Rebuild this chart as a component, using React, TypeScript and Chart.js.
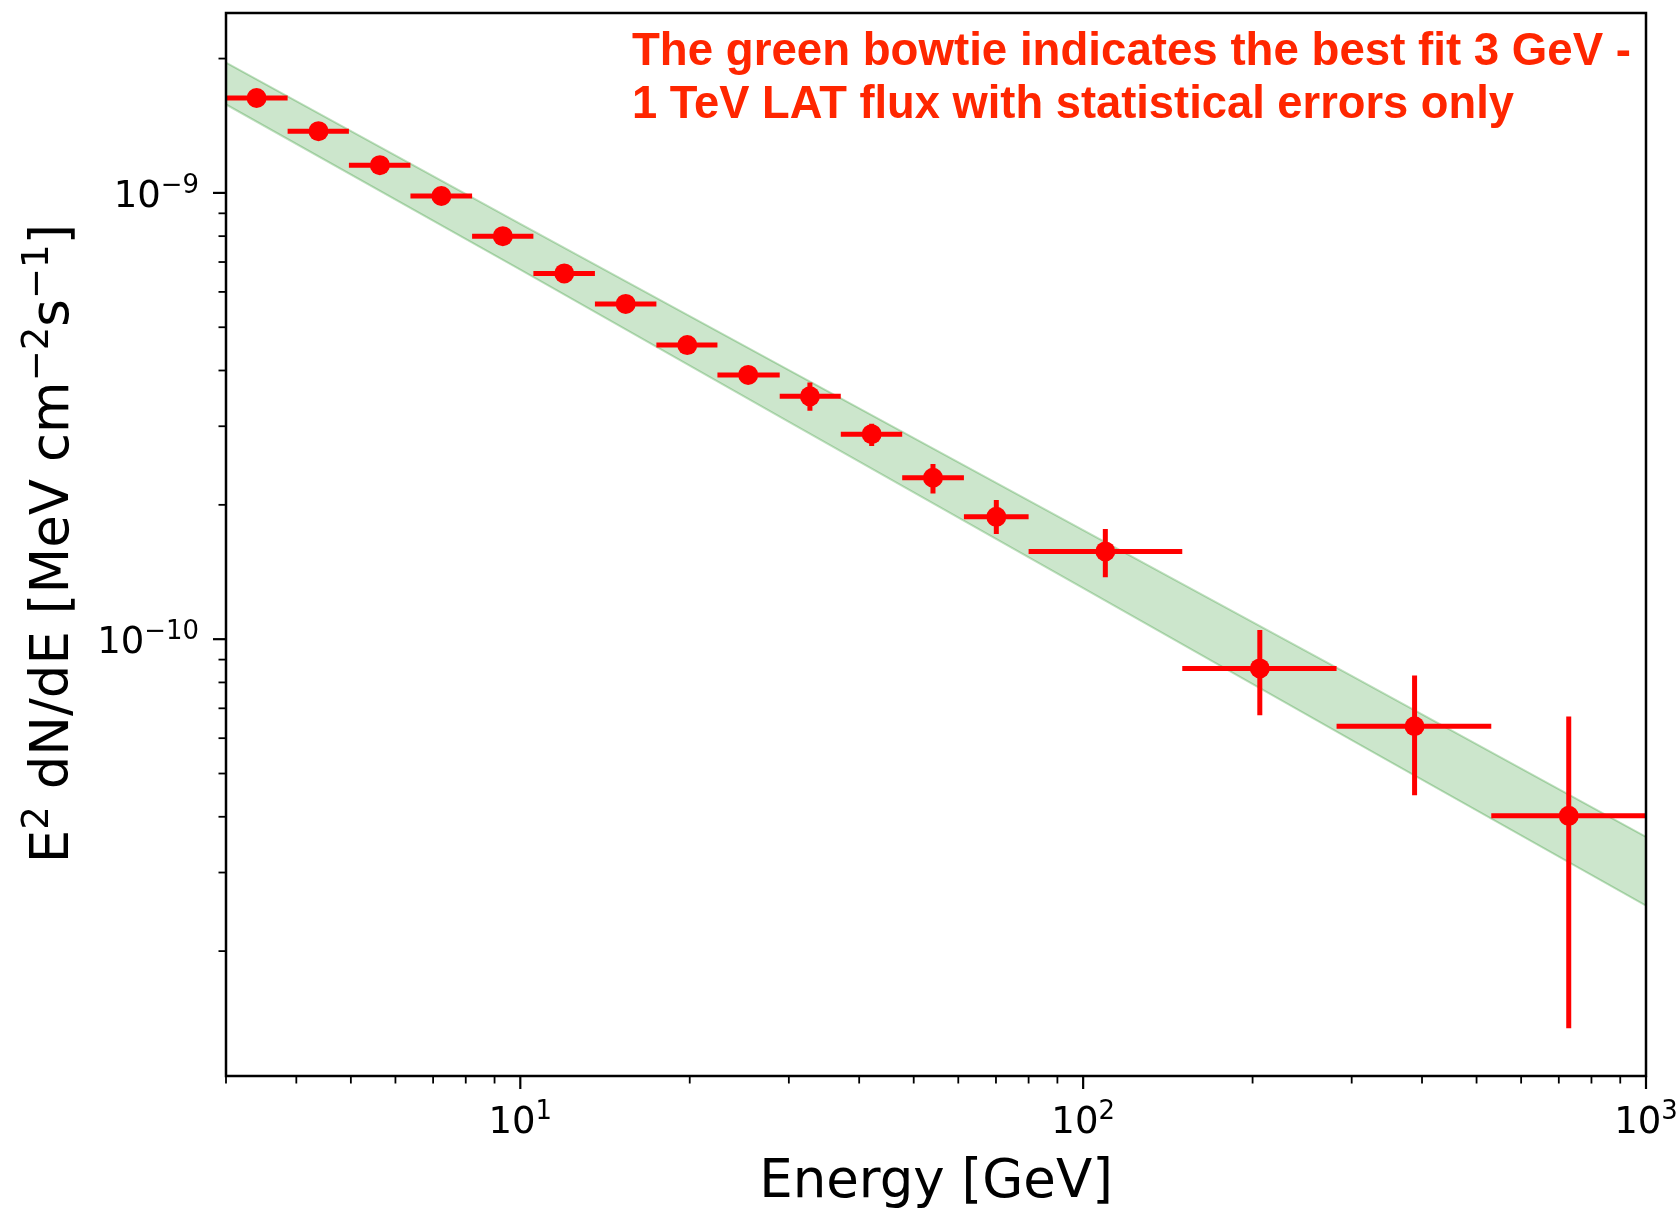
import React, { useEffect, useRef } from 'react';
import { Chart, registerables } from 'chart.js';

Chart.register(...registerables);

// ---- Data ----
const binLo = [3.0, 3.86, 4.96, 6.38, 8.21, 10.55, 13.57, 17.45, 22.4, 28.9, 37.1, 47.7, 61.4, 80.0, 150, 282, 531];
const binHi = [3.86, 4.96, 6.38, 8.21, 10.55, 13.57, 17.45, 22.4, 28.9, 37.1, 47.7, 61.4, 80.0, 150, 282, 531, 1000];
const energy = [3.40, 4.38, 5.63, 7.24, 9.31, 11.97, 15.39, 19.8, 25.4, 32.7, 42.1, 54.1, 70.1, 109.5, 206, 388, 729];
const flux = [1.632e-9, 1.375e-9, 1.154e-9, 9.84e-10, 8.0e-10, 6.6e-10, 5.64e-10, 4.56e-10, 3.91e-10, 3.5e-10, 2.88e-10, 2.3e-10, 1.88e-10, 1.573e-10, 8.6e-11, 6.38e-11, 4.02e-11];
const fluxLo = [1.61e-9, 1.355e-9, 1.135e-9, 9.66e-10, 7.84e-10, 6.45e-10, 5.5e-10, 4.43e-10, 3.78e-10, 3.25e-10, 2.71e-10, 2.12e-10, 1.72e-10, 1.376e-10, 6.75e-11, 4.47e-11, 1.344e-11];
const fluxHi = [1.655e-9, 1.395e-9, 1.173e-9, 1.002e-9, 8.16e-10, 6.75e-10, 5.78e-10, 4.69e-10, 4.04e-10, 3.76e-10, 3.04e-10, 2.47e-10, 2.05e-10, 1.765e-10, 1.049e-10, 8.29e-11, 6.71e-11];

// Green bowtie (best-fit 3 GeV - 1 TeV flux, statistical band)
const bandEnergy = [3, 10, 30, 100, 300, 1000];
const bandUpper = [1.959e-9, 8.52e-10, 4.01e-10, 1.755e-10, 8.27e-11, 3.607e-11];
const bandLower = [1.578e-9, 6.73e-10, 3.07e-10, 1.302e-10, 5.94e-11, 2.528e-11];

// Axes
const xRange = [3, 1000];
const yRange = [1.05e-11, 2.53e-9];
const xMajorTicks = [10, 100, 1000];
const xMajorExp = ['1', '2', '3'];
const xMinorTicks = [3, 4, 5, 6, 7, 8, 9, 20, 30, 40, 50, 60, 70, 80, 90, 200, 300, 400, 500, 600, 700, 800, 900];
const yMajorTicks = [1e-10, 1e-9];
const yMajorExp = ['\u221210', '\u22129'];
const yMinorTicks = [2e-11, 3e-11, 4e-11, 5e-11, 6e-11, 7e-11, 8e-11, 9e-11, 2e-10, 3e-10, 4e-10, 5e-10, 6e-10, 7e-10, 8e-10, 9e-10, 2e-9];

const xTitle = 'Energy [GeV]';
const yTitleRuns: [string, boolean][] = [
  ['E', false], ['2', true], [' dN/dE [MeV cm', false], ['\u22122', true], ['s', false], ['\u22121', true], [']', false],
];
const noteLines = [
  'The green bowtie indicates the best fit 3 GeV -',
  '1 TeV LAT flux with statistical errors only',
];

const RED = '#ff0000';
const FONT = '"DejaVu Sans", sans-serif';

function drawPow(ctx: CanvasRenderingContext2D, base: string, exp: string, x: number, y: number, align: string, size: number) {
  const es = size * 0.7;
  const raise = size * 0.38;
  ctx.font = `${size}px ${FONT}`;
  const wb = ctx.measureText(base).width;
  ctx.font = `${es}px ${FONT}`;
  const we = ctx.measureText(exp).width;
  const total = wb + we;
  const x0 = align === 'center' ? x - total / 2 : align === 'right' ? x - total : x;
  ctx.textAlign = 'left';
  ctx.textBaseline = 'alphabetic';
  ctx.font = `${size}px ${FONT}`;
  ctx.fillText(base, x0, y);
  ctx.font = `${es}px ${FONT}`;
  ctx.fillText(exp, x0 + wb, y - raise);
}

const decorPlugin = {
  id: 'decor',
  afterDraw(chart: any) {
    const ctx: CanvasRenderingContext2D = chart.ctx;
    const { left, right, top, bottom } = chart.chartArea;
    const xs = chart.scales.x;
    const ys = chart.scales.y;
    ctx.save();
    ctx.strokeStyle = '#000';
    ctx.fillStyle = '#000';
    ctx.lineCap = 'butt';
    const seg = (x1: number, y1: number, x2: number, y2: number) => {
      ctx.beginPath();
      ctx.moveTo(x1, y1);
      ctx.lineTo(x2, y2);
      ctx.stroke();
    };
    // minor ticks
    ctx.lineWidth = 1.8;
    for (const v of xMinorTicks) { const p = xs.getPixelForValue(v); seg(p, bottom, p, bottom + 7.5); }
    for (const v of yMinorTicks) { const p = ys.getPixelForValue(v); seg(left, p, left - 7.5, p); }
    // major ticks
    ctx.lineWidth = 2.2;
    for (const v of xMajorTicks) { const p = xs.getPixelForValue(v); seg(p, bottom, p, bottom + 13); }
    for (const v of yMajorTicks) { const p = ys.getPixelForValue(v); seg(left, p, left - 13, p); }
    // spines
    ctx.lineWidth = 2.5;
    ctx.strokeRect(left, top, right - left, bottom - top);

    // tick labels
    xMajorTicks.forEach((v, i) => {
      const p = xs.getPixelForValue(v);
      drawPow(ctx, '10', xMajorExp[i], p, bottom + 57, 'center', 37);
    });
    yMajorTicks.forEach((v, i) => {
      const p = ys.getPixelForValue(v);
      drawPow(ctx, '10', yMajorExp[i], left - 27, p + 14, 'right', 37);
    });

    // x title
    ctx.font = `53px ${FONT}`;
    ctx.textAlign = 'center';
    ctx.textBaseline = 'alphabetic';
    ctx.fillText(xTitle, (left + right) / 2, 1197);

    // y title (rotated, with superscripts)
    const ts = 53, tes = ts * 0.7, traise = ts * 0.38;
    let total = 0;
    const widths = yTitleRuns.map(([t, sup]) => {
      ctx.font = `${sup ? tes : ts}px ${FONT}`;
      const w = ctx.measureText(t).width;
      total += w;
      return w;
    });
    ctx.translate(68, (top + bottom) / 2 - 1);
    ctx.rotate(-Math.PI / 2);
    ctx.textAlign = 'left';
    let cx = -total / 2;
    yTitleRuns.forEach(([t, sup], i) => {
      ctx.font = `${sup ? tes : ts}px ${FONT}`;
      ctx.fillText(t, cx, sup ? -traise : 0);
      cx += widths[i];
    });
    ctx.setTransform(1, 0, 0, 1, 0, 0);

    // annotation
    ctx.fillStyle = '#ff2600';
    ctx.font = 'bold 47px "Liberation Sans", Arial, sans-serif';
    ctx.textAlign = 'left';
    ctx.fillText(noteLines[0], 632, 65, 999);
    ctx.fillText(noteLines[1], 632, 118, 882);
    ctx.restore();
  },
};

export default function App() {
  const ref = useRef<HTMLCanvasElement>(null);
  useEffect(() => {
    const canvas = ref.current;
    if (!canvas) return;

    const hBars: any[] = [];
    const vBars: any[] = [];
    energy.forEach((e, i) => {
      hBars.push({ x: binLo[i], y: flux[i] }, { x: binHi[i], y: flux[i] }, { x: binHi[i], y: null });
      vBars.push({ x: e, y: fluxLo[i] }, { x: e, y: fluxHi[i] }, { x: e, y: null });
    });

    const chart = new Chart(canvas, {
      type: 'line',
      data: {
        datasets: [
          {
            label: 'points',
            data: energy.map((e, i) => ({ x: e, y: flux[i] })),
            showLine: false,
            pointRadius: 10,
            pointBackgroundColor: RED,
            pointBorderWidth: 0,
            order: 0,
          },
          {
            label: 'xerr',
            data: hBars,
            borderColor: RED,
            borderWidth: 5,
            borderCapStyle: 'butt',
            pointRadius: 0,
            spanGaps: false,
            order: 1,
          },
          {
            label: 'yerr',
            data: vBars,
            borderColor: RED,
            borderWidth: 5,
            borderCapStyle: 'butt',
            pointRadius: 0,
            spanGaps: false,
            order: 1,
          },
          {
            label: 'band upper',
            data: bandEnergy.map((e, i) => ({ x: e, y: bandUpper[i] })),
            borderColor: 'rgba(0,128,0,0.25)',
            backgroundColor: 'rgba(0,128,0,0.2)',
            borderWidth: 2,
            pointRadius: 0,
            fill: '+1',
            order: 5,
          },
          {
            label: 'band lower',
            data: bandEnergy.map((e, i) => ({ x: e, y: bandLower[i] })),
            borderColor: 'rgba(0,128,0,0.25)',
            borderWidth: 2,
            pointRadius: 0,
            fill: false,
            order: 6,
          },
        ],
      },
      options: {
        animation: false,
        responsive: true,
        maintainAspectRatio: false,
        events: [],
        layout: { padding: { left: 226, top: 13, right: 34, bottom: 133 } },
        plugins: { legend: { display: false }, tooltip: { enabled: false }, title: { display: false } },
        scales: {
          x: { type: 'logarithmic', display: false, min: xRange[0], max: xRange[1] },
          y: { type: 'logarithmic', display: false, min: yRange[0], max: yRange[1] },
        },
      },
      plugins: [decorPlugin],
    } as any);
    return () => chart.destroy();
  }, []);

  return (
    <div style={{ position: 'fixed', left: 0, top: 0, width: 1680, height: 1209, background: '#fff' }}>
      <canvas ref={ref} />
    </div>
  );
}
